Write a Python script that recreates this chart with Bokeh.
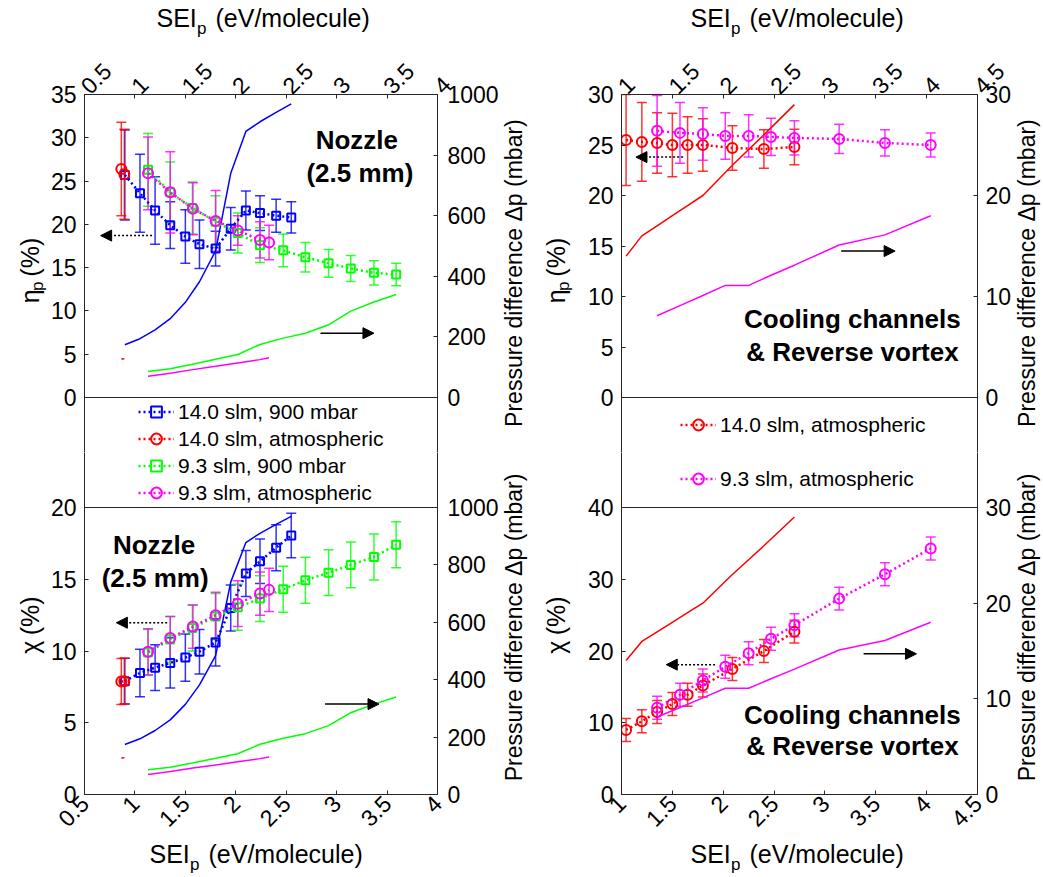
from math import pi
from bokeh.plotting import figure
from bokeh.models import (Range1d, LinearAxis, FixedTicker, NumeralTickFormatter, Label, Arrow,
                          NormalHead, TeeHead, Whisker, ColumnDataSource, Span, Legend, LegendItem)
from bokeh.layouts import column, row
from bokeh.embed import file_html
from bokeh.resources import INLINE

# ---------------- data: Nozzle (2.5 mm) ----------------
sei_noz_14_900 = [0.90, 1.05, 1.20, 1.35, 1.50, 1.64, 1.80, 1.95, 2.10, 2.24, 2.40, 2.55]
eta_noz_14_900 = [25.7, 23.6, 21.6, 19.9, 18.6, 17.7, 17.2, 19.5, 21.6, 21.3, 21.0, 20.8]
eta_err_noz_14_900 = [5.2, 4.5, 3.9, 2.7, 3.1, 2.8, 2.0, 2.45, 2.25, 2.0, 1.9, 1.8]
chi_noz_14_900 = [7.9, 8.47, 8.84, 9.17, 9.54, 9.95, 10.6, 13.0, 15.4, 16.25, 17.2, 18.05]
chi_err_noz_14_900 = [1.6, 1.65, 1.6, 1.75, 1.65, 1.55, 1.65, 1.6, 1.6, 1.55, 1.6, 1.55]
dp_noz_14_900 = [174, 194, 223, 260, 314, 382, 484, 740, 878, 910, 941, 969]

sei_noz_14_atm = [0.865, 0.895]
eta_noz_14_atm = [26.4, 25.8]
eta_err_noz_14_atm = [5.4, 5.2]
chi_noz_14_atm = [7.87, 7.9]
chi_err_noz_14_atm = [1.6, 1.6]
dp_noz_14_atm = [127, 128]

sei_noz_9_900 = [1.13, 1.35, 1.57, 1.80, 2.02, 2.24, 2.47, 2.69, 2.92, 3.14, 3.37, 3.59]
eta_noz_9_900 = [26.3, 23.7, 21.9, 20.3, 19.0, 17.6, 17.0, 16.2, 15.5, 14.9, 14.4, 14.2]
eta_err_noz_9_900 = [4.2, 3.5, 3.0, 3.0, 2.3, 2.0, 1.9, 1.7, 1.6, 1.5, 1.4, 1.3]
chi_noz_9_900 = [9.9, 10.8, 11.6, 12.4, 13.05, 13.65, 14.3, 14.93, 15.46, 16.0, 16.55, 17.4]
chi_err_noz_9_900 = [1.6, 1.6, 1.6, 1.6, 1.6, 1.6, 1.6, 1.6, 1.6, 1.6, 1.6, 1.6]
dp_noz_9_900 = [86, 95, 110, 126, 142, 175, 196, 212, 240, 285, 315, 340]

sei_noz_9_atm = [1.13, 1.35, 1.575, 1.80, 2.02, 2.24, 2.33]
eta_noz_9_atm = [25.9, 23.7, 21.8, 20.4, 19.3, 18.2, 17.9]
eta_err_noz_9_atm = [4.2, 4.7, 3.0, 3.5, 1.7, 2.1, 2.0]
chi_noz_9_atm = [9.95, 10.9, 11.7, 12.5, 13.3, 14.0, 14.26]
chi_err_noz_9_atm = [1.6, 1.5, 1.5, 1.6, 1.6, 1.5, 1.5]
dp_noz_9_atm = [70, 80, 92, 103, 114, 125, 131]

# ---------------- data: Cooling channels & Reverse vortex ----------------
sei_cc_14_atm = [1.045, 1.20, 1.35, 1.50, 1.65, 1.80, 2.09, 2.40, 2.70]
eta_cc_14_atm = [25.5, 25.3, 25.2, 25.0, 25.0, 25.0, 24.7, 24.6, 24.8]
eta_err_cc_14_atm = [4.5, 3.9, 3.0, 3.15, 2.8, 2.6, 2.2, 1.9, 1.75]
chi_cc_14_atm = [9.0, 10.2, 11.5, 12.6, 13.9, 15.2, 17.5, 20.0, 22.7]
chi_err_cc_14_atm = [1.6, 1.6, 1.6, 1.6, 1.6, 1.6, 1.6, 1.6, 1.6]
dp_cc_14_atm = [14.0, 16.0, 17.0, 18.0, 19.0, 20.0, 23.0, 26.0, 29.0]

sei_cc_9_atm = [1.35, 1.575, 1.80, 2.02, 2.25, 2.47, 2.70, 3.14, 3.59, 4.04]
eta_cc_9_atm = [26.4, 26.2, 26.1, 25.9, 25.9, 25.8, 25.7, 25.6, 25.2, 25.0]
eta_err_cc_9_atm = [3.5, 3.0, 2.6, 2.3, 2.1, 1.85, 1.7, 1.45, 1.3, 1.2]
chi_cc_9_atm = [12.1, 13.9, 15.9, 17.8, 19.7, 21.7, 23.6, 27.3, 30.7, 34.3]
chi_err_cc_9_atm = [1.6, 1.6, 1.6, 1.6, 1.6, 1.6, 1.6, 1.6, 1.6, 1.6]
dp_cc_9_atm = [8.1, 9.1, 10.1, 11.1, 11.1, 12.1, 13.1, 15.1, 16.1, 18.0]

# ticks
x_ticks_left = [0.5, 1, 1.5, 2, 2.5, 3, 3.5, 4]
x_ticks_right = [1, 1.5, 2, 2.5, 3, 3.5, 4, 4.5]
eta_ticks_left = [0, 5, 10, 15, 20, 25, 30, 35]
eta_ticks_right = [0, 5, 10, 15, 20, 25, 30]
chi_ticks_left = [0, 5, 10, 15, 20]
chi_ticks_right = [0, 10, 20, 30, 40]
dp_ticks_left = [0, 200, 400, 600, 800, 1000]
dp_ticks_right = [0, 10, 20, 30]

legend_names_left = ["14.0 slm, 900 mbar", "14.0 slm, atmospheric", "9.3 slm, 900 mbar", "9.3 slm, atmospheric"]
legend_names_right = ["14.0 slm, atmospheric", "9.3 slm, atmospheric"]

# ---------------- layout / style constants (pixels) ----------------
FONT = "Liberation Sans"
AX = "#262626"
BLUE, RED, GREEN, MAG = "#0000ff", "#ff0000", "#00ff00", "#ff00ff"
TICK_FS = "23px"

TS_H, BS_H = 40, 37                 # strips holding the SEI labels
LS_W, MS_W, RS_W = 47, 83, 29       # strips holding the vertical labels
L_BL, L_FW, L_BR = 34, 358, 62      # left panels: border left, frame width, border right
R_BL, R_FW, R_BR = 34, 362, 34      # right panels
TOP_BT = 54                         # top border of upper panels
UP_PX = 303                         # pixel height of the upper data area (0..max)
GAP_UP, GAP_LO = 55, 55             # legend band, split between upper and lower figures
LO_PX = 287                         # pixel height of the lower data area
BOT_BB = 46                         # bottom border of lower panels
TOTAL_W = LS_W + L_BL + L_FW + L_BR + MS_W + R_BL + R_FW + R_BR + RS_W
UP_H = TOP_BT + UP_PX + GAP_UP
LO_H = GAP_LO + LO_PX + BOT_BB


def style_axis(ax, ticks, standoff, orient=None, fmt=None):
    ax.ticker = FixedTicker(ticks=ticks)
    ax.major_tick_in = 4
    ax.major_tick_out = 0
    ax.minor_tick_line_color = None
    ax.axis_line_color = AX
    ax.major_tick_line_color = AX
    ax.major_label_text_font = FONT
    ax.major_label_text_color = "black"
    ax.major_label_text_font_size = TICK_FS
    ax.major_label_standoff = standoff
    ax.axis_label = None
    if orient is not None:
        ax.major_label_orientation = orient
    if fmt is not None:
        ax.formatter = fmt


def make_panel(upper, left, ymax, dpmax, xr, xticks, yticks, dpticks):
    bl, fw, br = (L_BL, L_FW, L_BR) if left else (R_BL, R_FW, R_BR)
    if upper:
        h = UP_H
        yr = (-ymax * GAP_UP / UP_PX, ymax)
        dpr = (-dpmax * GAP_UP / UP_PX, dpmax)
        bt, bb = TOP_BT, 0
    else:
        h = LO_H
        yr = (0, ymax + ymax * GAP_LO / LO_PX)
        dpr = (0, dpmax + dpmax * GAP_LO / LO_PX)
        bt, bb = 0, BOT_BB
    p = figure(width=bl + fw + br, height=h, x_range=Range1d(*xr), y_range=Range1d(*yr),
               output_backend="svg", toolbar_location=None, title=None,
               min_border_left=bl, min_border_right=br, min_border_top=bt, min_border_bottom=bb,
               background_fill_color="white", border_fill_color="white", outline_line_color=None)
    p.extra_y_ranges = {"dp": Range1d(*dpr)}
    p.grid.visible = False
    style_axis(p.yaxis[0], yticks, 8)
    ra = LinearAxis(y_range_name="dp")
    style_axis(ra, dpticks, 10 if left else 8)
    p.add_layout(ra, "right")
    if upper:
        p.xaxis[0].visible = False
        ta = LinearAxis()
        style_axis(ta, xticks, 5, pi / 4, NumeralTickFormatter(format="0.[0]"))
        p.add_layout(ta, "above")
        p.add_layout(Span(location=0, dimension="width", line_color=AX, line_width=1))
    else:
        style_axis(p.xaxis[0], xticks, 5, pi / 4, NumeralTickFormatter(format="0.[0]"))
        p.add_layout(Span(location=ymax, dimension="width", line_color=AX, line_width=1))
    return p


def series(p, x, y, err, dp, color, marker, size):
    src = ColumnDataSource(dict(x=x, lo=[a - b for a, b in zip(y, err)],
                                hi=[a + b for a, b in zip(y, err)]))
    p.add_layout(Whisker(source=src, base="x", lower="lo", upper="hi",
                         line_color=color, line_width=1.5, line_alpha=0.8,
                         upper_head=TeeHead(size=10, line_color=color, line_width=1.5, line_alpha=0.8),
                         lower_head=TeeHead(size=10, line_color=color, line_width=1.5, line_alpha=0.8)))
    r1 = p.line(x, y, line_color=color, line_width=2.5, line_dash="2 3")
    r2 = p.scatter(x, y, marker=marker, size=size, fill_color=None, line_color=color, line_width=2)
    p.line(x, dp, y_range_name="dp", line_color=color, line_width=1.5)
    return [r1, r2]


def add_legend(p, items, loc):
    leg = Legend(items=[LegendItem(label=n, renderers=r) for n, r in items], location=loc,
                 orientation="vertical", border_line_color=None, background_fill_alpha=0,
                 padding=0, margin=0, spacing=0, glyph_width=36, glyph_height=27, label_height=27,
                 label_text_font=FONT, label_text_font_size="21px", label_text_color="black",
                 label_standoff=4)
    p.add_layout(leg)


def lab(p, x, y, text, size, angle=0.0, align="left", baseline="middle", bold=False):
    p.add_layout(Label(x=x, y=y, text=text, text_font=FONT,
                       text_font_size=f"{size}px", text_font_style="bold" if bold else "normal",
                       angle=angle, text_align=align, text_baseline=baseline, text_color="black"))


def arrow(p, xs, xe, y, dotted):
    p.add_layout(Arrow(end=NormalHead(size=11, fill_color="black", line_color="black", line_width=1),
                       x_start=xs, y_start=y, x_end=xe, y_end=y, line_color="black",
                       line_width=1.5, line_dash="2 2" if dotted else "solid"))


def strip(w, h):
    s = figure(width=w, height=h, x_range=Range1d(0, w), y_range=Range1d(0, h), title=None,
               x_axis_type=None, y_axis_type=None, output_backend="svg", toolbar_location=None,
               min_border_left=0, min_border_right=0, min_border_top=0, min_border_bottom=0,
               outline_line_color=None, background_fill_color="white", border_fill_color="white")
    s.grid.visible = False
    return s


def sei_label(s, x0, ymain, ysub):
    lab(s, x0, ymain, "SEI", 25)
    lab(s, x0 + 40.5, ysub, "p", 17)
    lab(s, x0 + 59, ymain, "(eV/molecule)", 25)


def yleft_label(s, xb, y0, sym, sub):
    lab(s, xb, y0, sym, 25, angle=pi / 2)
    off = 14
    if sub:
        lab(s, xb + 8, y0 + off, "p", 17, angle=pi / 2)
        off += 9.5
    lab(s, xb, y0 + off + 7, "(%)", 25, angle=pi / 2)


def pressure_label(s, xb, yc):
    lab(s, xb, yc, "Pressure difference Δp (mbar)", 23, angle=pi / 2, align="center")


def bold_text(p, x, y, text):
    lab(p, x, y, text, 26, align="center", baseline="middle", bold=True)


# ---------------- upper-left: eta, nozzle ----------------
tl = make_panel(True, True, 35, 1000, (0.5, 4), x_ticks_left, eta_ticks_left, dp_ticks_left)
rb = series(tl, sei_noz_14_900, eta_noz_14_900, eta_err_noz_14_900, dp_noz_14_900, BLUE, "square", 8)
rr = series(tl, sei_noz_14_atm, eta_noz_14_atm, eta_err_noz_14_atm, dp_noz_14_atm, RED, "circle", 10)
series(tl, sei_noz_9_900, eta_noz_9_900, eta_err_noz_9_900, dp_noz_9_900, GREEN, "square", 8)
series(tl, sei_noz_9_atm, eta_noz_9_atm, eta_err_noz_9_atm, dp_noz_9_atm, MAG, "circle", 10)
add_legend(tl, [(legend_names_left[0], rb), (legend_names_left[1], rr)], (54, 0))
bold_text(tl, 3.2, 29.7, "Nozzle")
bold_text(tl, 3.23, 25.9, "(2.5 mm)")
arrow(tl, 1.17, 0.66, 18.7, True)
arrow(tl, 2.84, 3.37, 7.43, False)

# ---------------- upper-right: eta, cooling channels ----------------
tr = make_panel(True, False, 30, 30, (1, 4.5), x_ticks_right, eta_ticks_right, dp_ticks_right)
rr2 = series(tr, sei_cc_14_atm, eta_cc_14_atm, eta_err_cc_14_atm, dp_cc_14_atm, RED, "circle", 10)
series(tr, sei_cc_9_atm, eta_cc_9_atm, eta_err_cc_9_atm, dp_cc_9_atm, MAG, "circle", 10)
add_legend(tr, [(legend_names_right[0], rr2)], (59, 14))
bold_text(tr, 3.27, 7.8, "Cooling channels")
bold_text(tr, 3.27, 4.5, "& Reverse vortex")
arrow(tr, 1.606, 1.142, 23.8, True)
arrow(tr, 3.16, 3.69, 14.5, False)

# ---------------- lower-left: chi, nozzle ----------------
bl = make_panel(False, True, 20, 1000, (0.5, 4), x_ticks_left, chi_ticks_left, dp_ticks_left)
series(bl, sei_noz_14_900, chi_noz_14_900, chi_err_noz_14_900, dp_noz_14_900, BLUE, "square", 8)
series(bl, sei_noz_14_atm, chi_noz_14_atm, chi_err_noz_14_atm, dp_noz_14_atm, RED, "circle", 10)
rg = series(bl, sei_noz_9_900, chi_noz_9_900, chi_err_noz_9_900, dp_noz_9_900, GREEN, "square", 8)
rm = series(bl, sei_noz_9_atm, chi_noz_9_atm, chi_err_noz_9_atm, dp_noz_9_atm, MAG, "circle", 10)
add_legend(bl, [(legend_names_left[2], rg), (legend_names_left[3], rm)], (54, 288))
bold_text(bl, 1.19, 17.4, "Nozzle")
bold_text(bl, 1.2, 15.1, "(2.5 mm)")
arrow(bl, 1.32, 0.816, 11.97, True)
arrow(bl, 2.885, 3.42, 6.3, False)

# ---------------- lower-right: chi, cooling channels ----------------
br = make_panel(False, False, 40, 30, (1, 4.5), x_ticks_right, chi_ticks_right, dp_ticks_right)
series(br, sei_cc_14_atm, chi_cc_14_atm, chi_err_cc_14_atm, dp_cc_14_atm, RED, "circle", 10)
rm2 = series(br, sei_cc_9_atm, chi_cc_9_atm, chi_err_cc_9_atm, dp_cc_9_atm, MAG, "circle", 10)
add_legend(br, [(legend_names_right[1], rm2)], (59, 302))
bold_text(br, 3.27, 11.1, "Cooling channels")
bold_text(br, 3.27, 6.7, "& Reverse vortex")
arrow(br, 1.92, 1.44, 18.1, True)
arrow(br, 3.38, 3.90, 19.6, False)

# ---------------- label strips ----------------
ts = strip(TOTAL_W, TS_H)
sei_label(ts, 156, 23, 12)
sei_label(ts, 690, 23, 12)
bs = strip(TOTAL_W, BS_H)
sei_label(bs, 149, 24, 13)
sei_label(bs, 690, 24, 13)

ls1, ms1, rs1 = strip(LS_W, UP_H), strip(MS_W, UP_H), strip(RS_W, UP_H)
ls2, ms2, rs2 = strip(LS_W, LO_H), strip(MS_W, LO_H), strip(RS_W, LO_H)
up_center = GAP_UP + UP_PX / 2
lo_center = BOT_BB + LO_PX / 2
yleft_label(ls1, 29, up_center - 34.6, "η", True)
yleft_label(ms1, 54, up_center - 34.6, "η", True)
yleft_label(ls2, 29, lo_center - 29.9, "χ", False)
yleft_label(ms2, 54, lo_center - 29.9, "χ", False)
pressure_label(ms1, 12, up_center)
pressure_label(ms2, 12, lo_center)
pressure_label(rs1, 12, up_center)
pressure_label(rs2, 12, lo_center)

layout = column(ts, row(ls1, tl, ms1, tr, rs1), row(ls2, bl, ms2, br, rs2), bs)
open("out.html", "w").write(file_html(layout, INLINE))
